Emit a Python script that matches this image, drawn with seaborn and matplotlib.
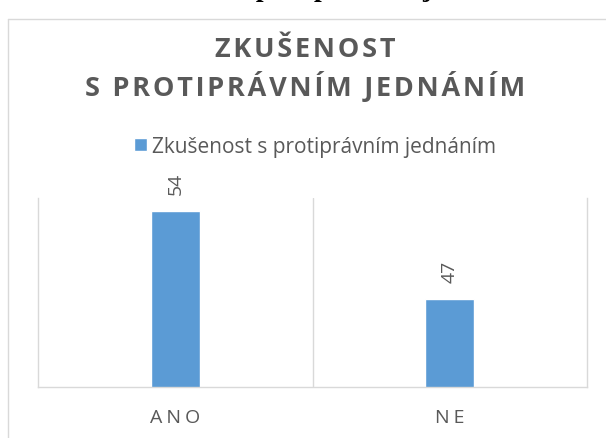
import matplotlib
matplotlib.use("Agg")
import pandas as pd
import matplotlib.pyplot as plt
import seaborn as sns

# chart data
categories = ["ANO", "NE"]
values = [54, 47]
series_name = "Zkušenost s protiprávním jednáním"
chart_title = ["ZKUŠENOST", "S PROTIPRÁVNÍM JEDNÁNÍM"]
caption = "Graf 4: Zkušenost s protiprávním jednáním"

HS = "\u200a"  # hair space, used to imitate letter spacing


def spaced(s, n=1):
    return (HS * n).join(list(s))


df = pd.DataFrame({"kategorie": categories, "pocet": values, "serie": series_name})

sns.set_theme(style="white")
plt.rcParams["font.family"] = ["Open Sans", "DejaVu Sans"]

fig = plt.figure(figsize=(6.06, 4.39), dpi=100)
ax = fig.add_axes([38 / 606, 1 - 388 / 439, (587 - 38) / 606, (388 - 199) / 439])

sns.barplot(data=df, x="kategorie", y="pocet", hue="serie", palette=["#5b9bd5"],
            width=0.18, ax=ax, saturation=1)

ax.set_ylim(40, 55)
ax.set_xlim(-0.5, 1.5)
ax.set_yticks([])
ax.set_xlabel("")
ax.set_ylabel("")
ax.set_xticks(range(len(categories)))
ax.set_xticklabels([spaced(c, 2) for c in categories], color="#595959", fontsize=14)
ax.tick_params(axis="x", length=0, pad=15)

grid_color = "#d9d9d9"
ax.spines["top"].set_visible(False)
for side in ["left", "right", "bottom"]:
    ax.spines[side].set_color(grid_color)
    ax.spines[side].set_linewidth(1.0)
ax.axvline(0.5, color=grid_color, lw=1.0, zorder=0)

# data labels
for container in ax.containers:
    ax.bar_label(container, labels=[str(v) for v in values], rotation=90,
                 padding=12, color="#595959", fontsize=14)

# legend above plot
ax.legend(loc="center", bbox_to_anchor=(315 / 606, 1 - 147 / 439),
          bbox_transform=fig.transFigure, frameon=False, fontsize=15,
          handlelength=0.6, handleheight=0.6, handletextpad=0.25,
          labelcolor="#595959")

# chart title
fig.text(305 / 606, 1 - 57 / 439, spaced(chart_title[0], 1), ha="center", va="baseline",
         fontsize=19.5, fontweight="bold", color="#595959")
fig.text(305 / 606, 1 - 96 / 439, spaced(chart_title[1], 1), ha="center", va="baseline",
         fontsize=19.5, fontweight="bold", color="#595959")

# chart frame (partially visible)
fig.add_artist(plt.Line2D([8 / 606, 8 / 606], [0, 1 - 20 / 439], color=grid_color, lw=1.0,
                          transform=fig.transFigure))
fig.add_artist(plt.Line2D([8 / 606, 1], [1 - 20 / 439, 1 - 20 / 439], color=grid_color, lw=1.0,
                          transform=fig.transFigure))

# caption of the document, cut off by the top edge
fig.text(15 / 606, 1 + 4 / 439, caption, ha="left", va="baseline", fontsize=20,
         fontweight="bold", family="Liberation Serif", color="black")

fig.savefig("out.png", dpi=100)
